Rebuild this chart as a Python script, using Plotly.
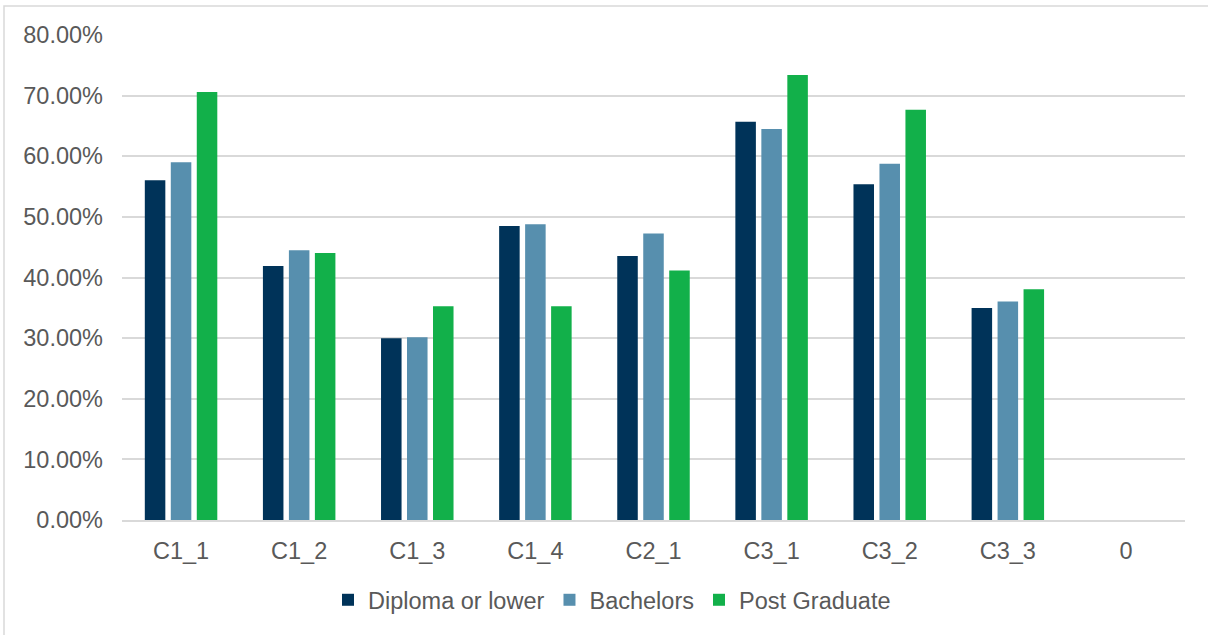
import plotly.graph_objects as go

categories = ["C1_1", "C1_2", "C1_3", "C1_4", "C2_1", "C3_1", "C3_2", "C3_3", "0"]
diploma = [0.5605, 0.4190, 0.3000, 0.4850, 0.4356, 0.6570, 0.5540, 0.3495, None]
bachelors = [0.5900, 0.4450, 0.3015, 0.4880, 0.4725, 0.6450, 0.5875, 0.3605, None]
postgrad = [0.7060, 0.4406, 0.3526, 0.3526, 0.4114, 0.7340, 0.6766, 0.3807, None]

series_names = ["Diploma or lower", "Bachelors", "Post Graduate"]
colors = ["#003359", "#578FAE", "#12B04A"]

fig = go.Figure()
for name, vals, col in zip(series_names, [diploma, bachelors, postgrad], colors):
    fig.add_trace(go.Bar(x=categories, y=vals, name=name,
                         marker=dict(color=col, line=dict(width=0))))

L, R, T, B = 122, 23, 35, 115
W, H = 1208, 635
pw = W - L - R
ph = H - T - B
FS = 23.5

fig.update_layout(
    width=W, height=H,
    margin=dict(l=L, r=R, t=T, b=B, pad=0),
    paper_bgcolor="white", plot_bgcolor="white",
    barmode="group", bargap=0.34, bargroupgap=0.21,
    font=dict(family="Liberation Sans, Arial, sans-serif", size=FS, color="#595959"),
    showlegend=True,
    legend=dict(orientation="h", x=(612 - L) / pw, xanchor="center",
                y=-(600 - (T + ph)) / ph, yanchor="middle",
                font=dict(size=FS, color="#595959"),
                itemwidth=30, tracegroupgap=0, bgcolor="rgba(0,0,0,0)"),
    xaxis=dict(showgrid=False, showline=True, linecolor="#D9D9D9", linewidth=1.5,
               ticks="", tickfont=dict(size=FS, color="#595959"),
               ticklabelstandoff=9, fixedrange=True),
    yaxis=dict(range=[0, 0.8], dtick=0.1, tickformat=".2%",
               showgrid=True, gridcolor="#D9D9D9", gridwidth=1.5,
               zeroline=False, showline=False, ticks="",
               tickfont=dict(size=FS, color="#595959"),
               ticklabelstandoff=18, fixedrange=True),
    shapes=[dict(type="rect", xref="paper", yref="paper",
                 x0=(4 - L) / pw, x1=(W + 10 - L) / pw,
                 y0=-(H + 10 - T - ph) / ph, y1=1 + (T - 6) / ph,
                 line=dict(color="#D9D9D9", width=1.5), fillcolor="rgba(0,0,0,0)",
                 layer="below")],
)

fig.write_html("out.html")
